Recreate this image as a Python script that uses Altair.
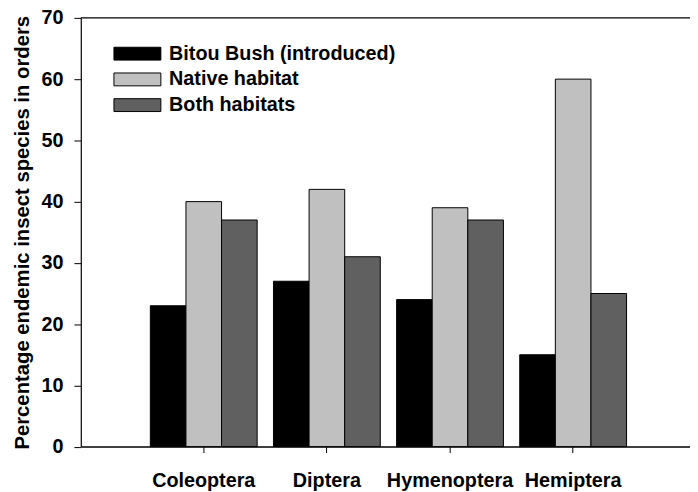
import altair as alt
import pandas as pd

orders = ["Coleoptera", "Diptera", "Hymenoptera", "Hemiptera"]
series = ["Bitou Bush (introduced)", "Native habitat", "Both habitats"]
bitou = [23, 27, 24, 15]
native = [40, 42, 39, 60]
both = [37, 31, 37, 25]
colors = ["#000000", "#c0c0c0", "#606060"]
y_ticks = [0, 10, 20, 30, 40, 50, 60, 70]

rows = []
for name, vals in zip(series, [bitou, native, both]):
    for o, v in zip(orders, vals):
        rows.append({"order": o, "series": name, "value": v})
df = pd.DataFrame(rows)

FONT = "Liberation Sans, Arial, Helvetica, sans-serif"
W, H = 616, 433.5

bars = alt.Chart(df).mark_bar(stroke="black", strokeWidth=1).encode(
    x=alt.X("order:N", sort=orders, title=None,
            scale=alt.Scale(paddingInner=0.1325, paddingOuter=0.54, align=0.523),
            axis=alt.Axis(labelAngle=0, labelOverlap=False, tickSize=6, labelPadding=18,
                          domainWidth=1.5, labelFontSize=20)),
    xOffset=alt.XOffset("series:N", sort=series,
                        scale=alt.Scale(paddingInner=0, paddingOuter=0)),
    y=alt.Y("value:Q", title="Percentage endemic insect species in orders",
            scale=alt.Scale(domain=[0, 70], nice=False),
            axis=alt.Axis(values=y_ticks, tickSize=7, labelPadding=11, grid=False,
                          labelFontSize=20, titleFontSize=20.5, titlePadding=9,
                          domainWidth=1.2)),
    color=alt.Color("series:N", sort=series,
                    scale=alt.Scale(domain=series, range=colors),
                    legend=alt.Legend(title=None, orient="none", legendX=47.25, legendY=26.2,
                                      padding=0, rowPadding=6,
                                      symbolType="M-3.65,-1H3.65V1H-3.65Z",
                                      symbolSize=169, symbolStrokeColor="black",
                                      symbolStrokeWidth=1, labelFontSize=20,
                                      labelFont=FONT, labelFontWeight="bold",
                                      labelColor="black", labelOffset=22, labelLimit=0)),
)

top = alt.Chart(pd.DataFrame({"k": [0]})).mark_rule(color="black", strokeWidth=1.2).encode(
    x=alt.value(0), x2=alt.value(W), y=alt.value(0)
)

chart = alt.layer(bars, top).properties(
    width=W, height=H,
    autosize=alt.AutoSizeParams(type="none"),
    padding={"left": 73.6, "top": 7.3, "right": 0, "bottom": 43.2},
).configure_view(stroke=None).configure_axis(
    labelFont=FONT, titleFont=FONT, labelFontWeight="bold", titleFontWeight="bold",
    labelColor="black", titleColor="black", domainColor="black", tickColor="black",
)

chart.save("out.html", embed_options={"renderer": "svg", "actions": False})
